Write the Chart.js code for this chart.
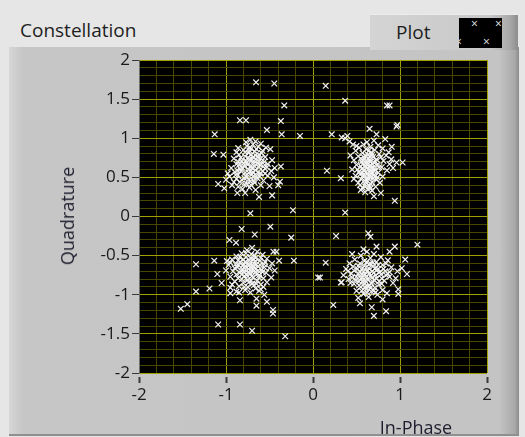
<!DOCTYPE html>
<html>
<head>
<meta charset="utf-8">
<script src="https://cdn.jsdelivr.net/npm/chart.js@4/dist/chart.umd.min.js"></script>
<style>
  body { margin: 0; width: 525px; height: 437px; background: #e6e6e6; overflow: hidden; font-family: "Open Sans", "Noto Sans", sans-serif; }
  #panel { position: absolute; left: 9px; top: 47px; width: 510px; height: 387px; background: linear-gradient(to right, #d6d6d6 0px, #c6c6c6 14px, #c4c4c4 490px, #a8a8a8 506px, #8a8a8a 510px); border-bottom: 2px solid #8f8f8f; }
  #title { position: absolute; left: 20px; top: 17px; font-size: 19px; color: #1e1e1e; }
  #legend { position: absolute; left: 370px; top: 14px; width: 148px; height: 35px; background: linear-gradient(to right, #d4d4d4 0px, #c8c8c8 120px, #a8a8a8 140px, #8c8c8c 148px); border-top: 1px solid #ececec; }
  #legend span.lbl { position: absolute; left: 26px; top: 4px; font-size: 19px; color: #1e1e1e; }
  #swatch { position: absolute; left: 89px; top: 3px; width: 43px; height: 30px; background: #000; overflow: hidden; color: #e8e8e8; font-size: 12px; line-height: 12px; }
  #swatch span { position: absolute; }
  #ytitle { position: absolute; left: 67px; top: 216px; transform: translate(-50%, -50%) rotate(-90deg); font-size: 18px; color: #1e1e2e; white-space: nowrap; }
  #xtitle { position: absolute; left: 416px; top: 427px; transform: translate(-50%, -50%); font-size: 18px; color: #1e1e2e; white-space: nowrap; }
  #chart { position: absolute; left: 0; top: 0; }
</style>
</head>
<body>
<div id="panel"></div>
<div id="title">Constellation</div>
<div id="legend"><span class="lbl">Plot</span>
  <div id="swatch"><span style="left:12px;top:0px">×</span><span style="left:36px;top:0px">×</span><span style="left:-4px;top:18px">×</span><span style="left:24px;top:18px">×</span></div>
</div>
<canvas id="chart" width="525" height="437"></canvas>
<div id="ytitle">Quadrature</div>
<div id="xtitle">In-Phase</div>
<script>
// In-Phase / Quadrature pairs, by quadrant
const topLeft = [
  [-0.72,0.98],[-0.66,0.96],[-0.69,0.92],[-0.76,0.90],[-0.63,0.89],[-0.71,0.87],[-0.80,0.85],[-0.58,0.84],[-0.67,0.83],[-0.74,0.81],
  [-0.85,0.79],[-0.62,0.79],[-0.78,0.77],[-0.69,0.76],[-0.55,0.76],[-0.91,0.74],[-0.73,0.73],[-0.64,0.72],[-0.82,0.71],[-0.59,0.70],
  [-0.76,0.69],[-0.68,0.68],[-0.88,0.67],[-0.52,0.67],[-0.71,0.65],[-0.79,0.64],[-0.62,0.63],[-0.94,0.62],[-0.84,0.61],[-0.55,0.61],
  [-0.74,0.60],[-0.66,0.59],[-0.48,0.58],[-0.90,0.57],[-0.78,0.56],[-0.60,0.55],[-0.70,0.54],[-0.86,0.53],[-0.52,0.52],[-0.96,0.51],
  [-0.76,0.50],[-0.64,0.49],[-0.82,0.47],[-0.57,0.46],[-0.72,0.45],[-0.91,0.44],[-0.67,0.43],[-0.79,0.41],[-0.60,0.40],[-0.86,0.38],
  [-0.73,0.37],[-0.50,0.39],[-0.81,0.35],[-0.66,0.34],[-0.93,0.40],[-0.45,0.50],[-0.44,0.62],[-0.47,0.72],[-0.98,0.55],[-1.00,0.47],
  [-0.88,0.82],[-0.60,0.93],[-0.77,0.95],[-0.54,0.88],[-0.83,0.58],[-0.69,0.57],[-0.61,0.66],[-0.75,0.75],[-0.65,0.52],[-0.88,0.48],
  [-0.56,0.70],[-0.73,0.84],[-0.80,0.68],[-0.70,0.62],[-0.63,0.76],[-0.85,0.66],[-0.58,0.58],[-0.77,0.52],[-0.68,0.71],[-0.74,0.56],
  [-0.71,0.79],[-0.65,0.86],[-0.78,0.82],[-0.60,0.74],[-0.83,0.75],[-0.67,0.64],[-0.75,0.66],[-0.57,0.64],[-0.81,0.62],[-0.72,0.58],
  [-0.63,0.57],[-0.87,0.59],[-0.69,0.51],[-0.79,0.49],[-0.61,0.51],[-0.74,0.47],[-0.55,0.55],[-0.84,0.44],[-0.68,0.46],[-0.76,0.42],
  [-0.64,0.68],[-0.70,0.73],[-0.77,0.71],[-0.66,0.78],[-0.73,0.88],[-0.59,0.81],[-0.86,0.70],[-0.53,0.63],[-0.89,0.53],[-0.71,0.40],
  [-0.655,1.715],[-0.445,1.70],[-0.33,1.42],[-0.84,1.23],[-0.77,1.23],[-0.37,1.22],[-1.13,1.05],[-0.53,1.105],[-0.36,1.05],[-0.15,1.03],
  [-1.14,0.80],[-1.03,0.79],[-0.86,0.875],[-0.49,0.86],[-0.37,0.64],[-1.09,0.415],[-0.38,0.445],[-0.62,0.25],[-0.47,0.27],[-0.72,0.04],
  [-0.23,0.08],[-1.02,0.36],[-0.40,0.40],[-0.87,0.30],[-0.78,0.30]
];
const topRight = [
  [0.62,0.95],[0.70,0.97],[0.58,0.92],[0.75,0.91],[0.66,0.89],[0.53,0.88],[0.80,0.87],[0.61,0.86],[0.71,0.85],[0.49,0.84],
  [0.67,0.82],[0.57,0.81],[0.76,0.80],[0.63,0.79],[0.84,0.78],[0.52,0.77],[0.69,0.76],[0.59,0.75],[0.73,0.73],[0.47,0.72],
  [0.65,0.72],[0.81,0.71],[0.56,0.70],[0.70,0.69],[0.61,0.68],[0.88,0.67],[0.50,0.66],[0.74,0.66],[0.66,0.65],[0.55,0.64],
  [0.79,0.63],[0.62,0.62],[0.71,0.61],[0.45,0.60],[0.58,0.59],[0.85,0.59],[0.67,0.58],[0.53,0.57],[0.75,0.56],[0.63,0.55],
  [0.70,0.53],[0.49,0.52],[0.59,0.51],[0.80,0.51],[0.66,0.50],[0.55,0.48],[0.73,0.47],[0.62,0.46],[0.68,0.44],[0.52,0.43],
  [0.77,0.43],[0.60,0.41],[0.65,0.39],[0.57,0.37],[0.72,0.38],[0.63,0.35],[0.68,0.33],[0.60,0.31],[0.55,0.34],[0.90,0.73],
  [0.92,0.62],[0.87,0.82],[0.96,0.69],[0.47,0.48],[0.43,0.78],[0.37,1.00],[0.42,0.96],[0.46,0.92],[0.50,0.90],[0.64,0.74],
  [0.57,0.67],[0.69,0.63],[0.61,0.57],[0.72,0.59],[0.54,0.54],[0.66,0.70],[0.60,0.78],[0.74,0.50],
  [0.64,0.84],[0.68,0.79],[0.58,0.72],[0.62,0.70],[0.68,0.67],[0.64,0.61],[0.60,0.64],[0.66,0.55],[0.58,0.53],[0.63,0.49],
  [0.69,0.49],[0.61,0.44],[0.66,0.42],[0.70,0.58],[0.56,0.61],[0.72,0.70],[0.59,0.46],[0.65,0.77],[0.55,0.74],[0.76,0.63],
  [0.62,0.66],[0.67,0.62],[0.64,0.52],[0.57,0.56],[0.71,0.51],[0.60,0.38],[0.66,0.36],[0.54,0.40],[0.78,0.76],[0.51,0.60],
  [0.146,1.67],[0.37,1.48],[0.85,1.42],[0.88,1.42],[0.97,1.17],[0.96,1.15],[0.215,1.05],[0.33,1.01],[0.395,1.03],[0.65,1.12],
  [0.73,1.05],[0.83,0.99],[0.905,0.89],[1.03,0.69],[0.16,0.585],[0.32,0.49],[0.94,0.20],[0.37,0.05],[0.78,0.30],[0.70,0.26]
];
const bottomLeft = [
  [-0.70,-0.40],[-0.76,-0.43],[-0.64,-0.45],[-0.82,-0.47],[-0.71,-0.48],[-0.58,-0.49],[-0.88,-0.51],[-0.77,-0.52],[-0.66,-0.53],[-0.53,-0.54],
  [-0.93,-0.55],[-0.73,-0.56],[-0.61,-0.57],[-0.84,-0.58],[-0.68,-0.60],[-0.79,-0.61],[-0.56,-0.61],[-0.97,-0.62],[-0.74,-0.63],[-0.63,-0.64],
  [-0.87,-0.65],[-0.70,-0.66],[-0.50,-0.66],[-0.81,-0.67],[-0.59,-0.68],[-0.76,-0.69],[-0.92,-0.70],[-0.66,-0.71],[-0.84,-0.72],[-0.54,-0.72],
  [-0.72,-0.73],[-0.62,-0.75],[-0.79,-0.76],[-0.95,-0.77],[-0.69,-0.78],[-0.86,-0.79],[-0.57,-0.79],[-0.75,-0.81],[-0.64,-0.82],[-0.90,-0.83],
  [-0.80,-0.85],[-0.70,-0.86],[-0.60,-0.87],[-0.85,-0.89],[-0.75,-0.90],[-0.95,-0.91],[-0.66,-0.92],[-0.78,-0.94],[-0.88,-0.96],[-0.72,-0.97],
  [-0.62,-0.95],[-0.47,-0.60],[-0.44,-0.69],[-0.48,-0.78],[-1.00,-0.69],[-0.99,-0.57],[-0.78,-0.64],[-0.68,-0.70],[-0.73,-0.59],[-0.82,-0.74],
  [-0.65,-0.61],[-0.60,-0.53],[-0.86,-0.56],[-0.71,-0.82],[-0.56,-0.65],[-0.76,-0.75],[-0.63,-0.69],[-0.89,-0.61],[-0.80,-0.70],[-0.67,-0.50],
  [-0.84,-0.52],[-0.93,-0.87],[-0.85,-0.97],[-0.60,-0.93],[-0.53,-0.84],[-0.57,-0.90],
  [-0.74,-0.67],[-0.69,-0.63],[-0.78,-0.58],[-0.72,-0.53],[-0.66,-0.57],[-0.81,-0.63],[-0.75,-0.72],[-0.70,-0.76],[-0.64,-0.73],[-0.83,-0.69],
  [-0.77,-0.79],[-0.67,-0.66],[-0.61,-0.62],[-0.73,-0.62],[-0.80,-0.55],[-0.88,-0.74],[-0.58,-0.71],[-0.69,-0.55],[-0.62,-0.78],[-0.74,-0.84],
  [-0.86,-0.62],[-0.77,-0.47],[-0.65,-0.86],[-0.82,-0.80],[-0.71,-0.70],[-0.90,-0.66],[-0.55,-0.58],[-0.79,-0.90],[-0.68,-0.88],[-0.95,-0.59],
  [-0.82,-0.16],[-0.49,-0.13],[-0.67,-0.23],[-0.25,-0.27],[-0.96,-0.30],[-0.885,-0.335],[-1.345,-0.61],[-1.135,-0.565],[-0.22,-0.565],[-1.10,-0.735],
  [-1.19,-0.92],[-1.345,-0.96],[-1.445,-1.12],[-1.52,-1.18],[-0.46,-1.195],[-0.46,-1.24],[-0.65,-1.14],[-0.53,-1.09],[-0.84,-1.07],[-1.09,-1.38],
  [-0.84,-1.38],[-0.70,-1.46],[-0.32,-1.53],[-0.455,-0.45],[-0.42,-0.45],[-0.39,-0.565],[-0.95,-0.98],[-0.65,-1.05],[-0.56,-1.00],[-1.05,-0.85]
];
const bottomRight = [
  [0.62,-0.45],[0.70,-0.48],[0.55,-0.50],[0.78,-0.52],[0.66,-0.53],[0.48,-0.55],[0.86,-0.56],[0.59,-0.57],[0.73,-0.58],[0.42,-0.60],
  [0.64,-0.61],[0.80,-0.62],[0.52,-0.63],[0.69,-0.64],[0.90,-0.65],[0.57,-0.66],[0.75,-0.67],[0.38,-0.67],[0.47,-0.69],[0.63,-0.69],
  [0.83,-0.70],[0.54,-0.71],[0.70,-0.72],[0.44,-0.73],[0.60,-0.74],[0.78,-0.74],[0.66,-0.76],[0.50,-0.77],[0.88,-0.77],[0.57,-0.78],
  [0.73,-0.79],[0.41,-0.80],[0.63,-0.81],[0.82,-0.82],[0.53,-0.83],[0.69,-0.84],[0.47,-0.86],[0.59,-0.86],[0.76,-0.87],[0.65,-0.88],
  [0.92,-0.85],[0.55,-0.90],[0.71,-0.91],[0.61,-0.93],[0.80,-0.94],[0.50,-0.95],[0.67,-0.96],[0.58,-0.99],[0.74,-1.00],[0.64,-1.03],
  [0.35,-0.75],[0.33,-0.84],[0.97,-0.70],[0.95,-0.79],[0.98,-0.93],[0.85,-0.98],[0.62,-0.70],[0.68,-0.78],[0.56,-0.74],[0.72,-0.66],
  [0.60,-0.82],[0.66,-0.60],[0.51,-0.67],[0.77,-0.71],[0.45,-0.78],[0.79,-0.86],[0.54,-0.60],[0.86,-0.73],[0.63,-0.89],[0.40,-0.70],
  [0.70,-0.95],[0.84,-0.60],
  [0.65,-0.73],[0.61,-0.77],[0.68,-0.70],[0.58,-0.70],[0.72,-0.75],[0.55,-0.79],[0.64,-0.66],[0.70,-0.81],[0.59,-0.63],[0.75,-0.62],
  [0.52,-0.73],[0.67,-0.85],[0.62,-0.58],[0.79,-0.79],[0.49,-0.81],[0.57,-0.83],[0.73,-0.69],[0.66,-0.91],[0.81,-0.67],[0.46,-0.64],
  [0.60,-0.90],[0.76,-0.83],[0.53,-0.88],[0.69,-0.59],[0.84,-0.75],[0.62,-0.97],[0.56,-0.95],[0.72,-0.97],[0.43,-0.85],[0.88,-0.71],
  [0.265,-0.25],[0.635,-0.215],[0.66,-0.26],[1.20,-0.36],[0.73,-0.385],[0.94,-0.385],[1.06,-0.55],[1.08,-0.735],[1.02,-0.66],[0.146,-0.59],
  [0.08,-0.78],[0.06,-0.78],[0.32,-0.845],[0.233,-1.13],[0.54,-1.11],[0.675,-1.16],[0.70,-1.27],[0.84,-1.21],[0.98,-0.99],[0.58,-0.42],
  [0.88,-0.45],[0.45,-0.48],[0.52,-1.04],[0.80,-1.06]
];

const allPoints = [...topLeft, ...topRight, ...bottomLeft, ...bottomRight].map(p => ({ x: p[0], y: p[1] }));

const near = (v, step) => Math.abs(v / step - Math.round(v / step)) < 1e-6;

// black plot area like the LabVIEW graph
const plotBg = {
  id: 'plotBg',
  beforeDraw(chart) {
    const a = chart.chartArea;
    chart.ctx.save();
    chart.ctx.fillStyle = '#000';
    chart.ctx.fillRect(a.left, a.top, a.right - a.left, a.bottom - a.top);
    chart.ctx.restore();
  }
};

const tickFont = { family: 'Open Sans', size: 17 };

new Chart(document.getElementById('chart'), {
  type: 'scatter',
  data: {
    datasets: [{
      label: 'Plot',
      data: allPoints,
      pointStyle: 'crossRot',
      pointRadius: 4,
      borderColor: '#f2f2f2',
      backgroundColor: '#f2f2f2',
      borderWidth: 1.2
    }]
  },
  options: {
    responsive: false,
    animation: false,
    devicePixelRatio: 1,
    layout: { padding: { top: 60, right: 38, left: 0, bottom: 0 } },
    plugins: { legend: { display: false }, tooltip: { enabled: false } },
    scales: {
      x: {
        min: -2, max: 2,
        afterFit(s) { s.height = 64; },
        border: { display: false },
        grid: {
          color: c => near(c.tick.value, 1) ? '#a0a000' : '#474700',
          tickColor: c => near(c.tick.value, 1) ? '#3a3a3a' : 'rgba(0,0,0,0)',
          tickLength: 10,
          tickBorderDash: [0, 4, 6, 100],
          tickWidth: 2
        },
        ticks: {
          stepSize: 0.2, autoSkip: false, maxTicksLimit: 100, maxRotation: 0,
          padding: 2, color: '#1a1a1a', font: tickFont,
          callback: v => near(v, 1) ? String(Math.round(v)) : ''
        }
      },
      y: {
        min: -2, max: 2,
        afterFit(s) { s.width = 139; },
        border: { display: true, color: '#6e6e6e', width: 1 },
        grid: {
          color: c => near(c.tick.value, 0.5) ? '#a0a000' : '#474700',
          tickColor: c => near(c.tick.value, 0.5) ? '#3a3a3a' : 'rgba(0,0,0,0)',
          tickLength: 7
        },
        ticks: {
          stepSize: 0.1, autoSkip: false, maxTicksLimit: 100,
          padding: 2, color: '#1a1a1a', font: tickFont,
          callback: v => near(v, 0.5) ? String(Math.round(v * 2) / 2) : ''
        }
      }
    }
  },
  plugins: [plotBg]
});
</script>
</body>
</html>
